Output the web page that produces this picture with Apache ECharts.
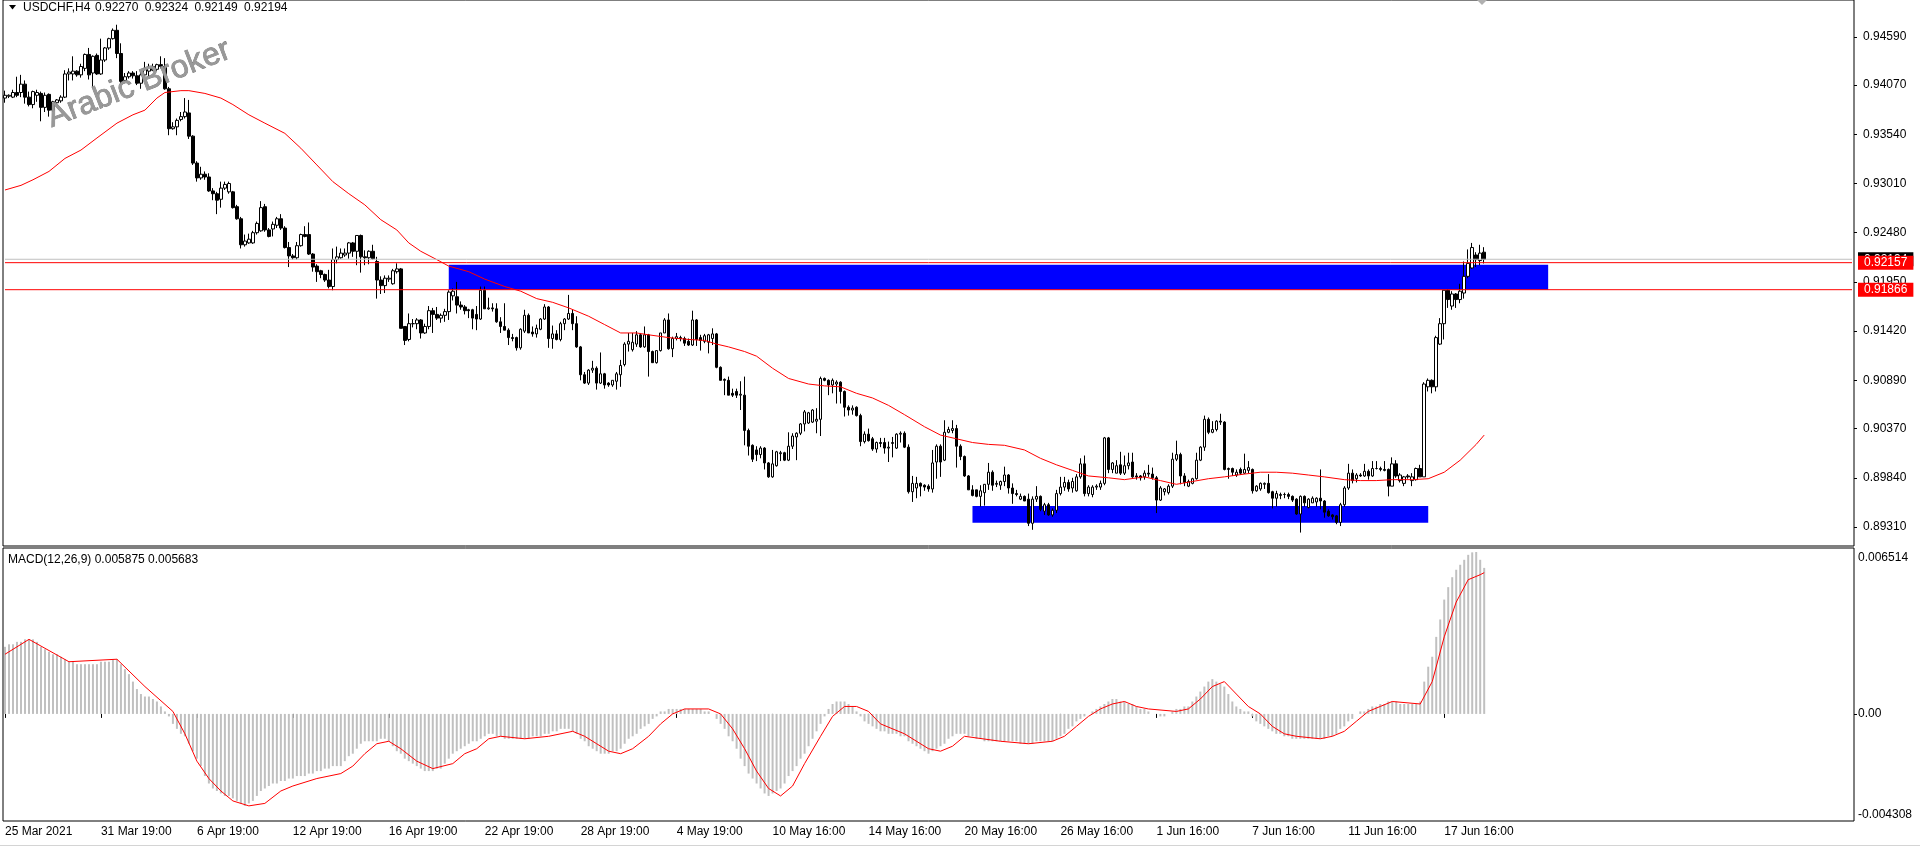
<!DOCTYPE html>
<html><head><meta charset="utf-8">
<script src="https://cdn.jsdelivr.net/npm/echarts@6/dist/echarts.min.js"></script>
<style>html,body{margin:0;padding:0;background:#fff;}#chart{width:1920px;height:847px;}</style>
</head><body><div id="chart"></div>
<script>
// ---------- DATA ----------
const symbolName = 'USDCHF,H4';
const lastBarOHLC = ['0.92270', '0.92324', '0.92149', '0.92194'];
const macdTitle = 'MACD(12,26,9) 0.005875 0.005683';
const watermark = 'Arabic Broker';
const timeLabels = ['25 Mar 2021','31 Mar 19:00','6 Apr 19:00','12 Apr 19:00','16 Apr 19:00','22 Apr 19:00','28 Apr 19:00','4 May 19:00','10 May 16:00','14 May 16:00','20 May 16:00','26 May 16:00','1 Jun 16:00','7 Jun 16:00','11 Jun 16:00','17 Jun 16:00'];
const barsPerLabel = 24;
const totalSlots = 463;
const priceTicks = [0.94590,0.94070,0.93540,0.93010,0.92480,0.91950,0.91420,0.90890,0.90370,0.89840,0.89310];
const priceMin = 0.891054, priceMax = 0.949864;
const macdTicks = [-0.004308, 0, 0.006514];
const macdTickLabels = ['-0.004308','0.00','0.006514'];
const macdMin = -0.004308, macdMax = 0.006675;
const hLines = [{v:0.92194,label:'0.92194',color:'#c0c0c0',bg:'#000000'},{v:0.92157,label:'0.92157',color:'#ff0000',bg:'#ff0000'},{v:0.91866,label:'0.91866',color:'#ff0000',bg:'#ff0000'}];
const zones = [{x1:111,x2:386,top:0.92135,bottom:0.91866},{x1:242,x2:356,top:0.89536,bottom:0.89356}];

const opens = [
.9393,.9395,.9394,.9399,.9399,.9408,.9394,.9386,.9396,.9398,
.9383,.9397,.9380,.9388,.9390,.9394,.9419,.9419,.9422,.9418,
.9425,.9440,.9420,.9439,.9419,.9434,.9447,.9457,.9466,.9441,
.9412,.9416,.9420,.9417,.9409,.9418,.9422,.9427,.9424,.9429,
.9427,.9403,.9360,.9362,.9370,.9373,.9377,.9352,.9323,.9307,
.9311,.9308,.9293,.9290,.9284,.9296,.9292,.9292,.9276,.9263,
.9235,.9237,.9237,.9248,.9250,.9276,.9251,.9252,.9256,.9263,
.9253,.9232,.9223,.9221,.9234,.9246,.9246,.9225,.9212,.9207,
.9203,.9197,.9190,.9219,.9221,.9224,.9226,.9237,.9228,.9245,
.9222,.9221,.9228,.9217,.9197,.9191,.9198,.9193,.9206,.9209,
.9147,.9133,.9150,.9150,.9154,.9140,.9147,.9164,.9160,.9156,
.9159,.9163,.9180,.9179,.9170,.9168,.9165,.9165,.9160,.9155,
.9186,.9166,.9167,.9166,.9152,.9147,.9143,.9135,.9135,.9124,
.9142,.9159,.9141,.9139,.9144,.9155,.9168,.9134,.9139,.9133,
.9150,.9155,.9161,.9150,.9125,.9095,.9086,.9100,.9102,.9086,
.9096,.9086,.9084,.9088,.9095,.9106,.9128,.9122,.9128,.9138,
.9125,.9138,.9120,.9108,.9121,.9140,.9154,.9123,.9134,.9135,
.9134,.9131,.9127,.9154,.9135,.9131,.9130,.9134,.9139,.9103,
.9090,.9089,.9075,.9077,.9073,.9073,.9035,.9019,.9014,.9009,
.9016,.9000,.8985,.8997,.9010,.9011,.9003,.9018,.9028,.9032,
.9042,.9043,.9044,.9045,.9047,.9091,.9089,.9084,.9085,.9087,
.9077,.9060,.9057,.9060,.9051,.9023,.9031,.9026,.9015,.9022,
.9022,.9016,.9021,.9016,.9031,.9032,.9017,.8969,.8973,.8978,
.8976,.8975,.8972,.9001,.9018,.9003,.9033,.9035,.9037,.9018,
.9007,.8986,.8971,.8971,.8964,.8968,.8977,.8990,.8977,.8976,
.8980,.8987,.8973,.8967,.8961,.8964,.8961,.8935,.8961,.8964,
.8948,.8955,.8944,.8949,.8967,.8974,.8979,.8973,.8970,.8985,
.8999,.8967,.8966,.8974,.8974,.8978,.9027,.8993,.8989,.8998,
.8989,.8997,.9001,.8986,.8986,.8985,.8989,.8988,.8984,.8960,
.8969,.8968,.8975,.9004,.9009,.8986,.8975,.8978,.8983,.9003,
.9017,.9047,.9033,.9036,.9045,.9044,.8993,.8994,.8987,.8993,
.8989,.8992,.8993,.8970,.8972,.8977,.8978,.8969,.8962,.8965,
.8966,.8966,.8964,.8961,.8945,.8964,.8952,.8957,.8958,.8962,
.8959,.8948,.8944,.8943,.8936,.8955,.8973,.8989,.8983,.8987,
.8986,.8991,.8986,.8994,.8994,.8993,.8993,.8975,.8999,.8981,
.8978,.8986,.8981,.8982,.8994,.8985,.9082,.9089,.9082,.9128,
.9150,.9186,.9169,.9182,.9176,.9183,.9201,.9210,.9224,.9218,
.92270];
const highs = [
.9401,.9397,.9402,.9416,.9418,.9412,.9400,.9401,.9402,.9400,
.9399,.9398,.9390,.9392,.9396,.9423,.9425,.9438,.9423,.9430,
.9441,.9447,.9439,.9441,.9457,.9448,.9458,.9468,.9472,.9452,
.9420,.9422,.9422,.9422,.9421,.9432,.9430,.9430,.9430,.9438,
.9436,.9405,.9367,.9371,.9378,.9393,.9391,.9353,.9325,.9319,
.9314,.9312,.9296,.9292,.9303,.9303,.9303,.9293,.9278,.9265,
.9246,.9247,.9250,.9260,.9282,.9279,.9253,.9260,.9265,.9268,
.9255,.9238,.9225,.9238,.9247,.9255,.9259,.9226,.9214,.9208,
.9204,.9208,.9231,.9233,.9231,.9231,.9238,.9238,.9245,.9246,
.9229,.9229,.9235,.9222,.9201,.9202,.9202,.9209,.9215,.9210,
.9147,.9161,.9155,.9156,.9155,.9150,.9169,.9167,.9168,.9161,
.9166,.9186,.9188,.9195,.9174,.9170,.9166,.9166,.9169,.9190,
.9190,.9178,.9172,.9172,.9157,.9172,.9145,.9139,.9136,.9145,
.9165,.9161,.9147,.9149,.9156,.9171,.9169,.9148,.9143,.9152,
.9156,.9181,.9165,.9158,.9126,.9098,.9101,.9110,.9104,.9119,
.9097,.9087,.9089,.9098,.9111,.9130,.9140,.9140,.9142,.9140,
.9147,.9139,.9121,.9121,.9140,.9156,.9161,.9136,.9140,.9137,
.9136,.9134,.9164,.9155,.9138,.9139,.9139,.9145,.9140,.9104,
.9091,.9093,.9080,.9080,.9088,.9093,.9037,.9020,.9018,.9018,
.9017,.9001,.9014,.9013,.9013,.9012,.9033,.9032,.9033,.9043,
.9057,.9055,.9058,.9059,.9093,.9092,.9090,.9091,.9089,.9088,
.9078,.9062,.9062,.9061,.9053,.9034,.9037,.9028,.9023,.9027,
.9027,.9023,.9028,.9032,.9034,.9034,.9020,.8986,.8985,.8979,
.8977,.8977,.9014,.9020,.9020,.9046,.9039,.9046,.9041,.9020,
.9008,.8987,.8976,.8971,.8976,.8977,.9000,.8992,.8981,.8981,
.8996,.8988,.8978,.8971,.8967,.8965,.8967,.8964,.8975,.8965,
.8957,.8957,.8951,.8971,.8985,.8985,.8982,.8984,.8988,.9005,
.9008,.8976,.8976,.8977,.8981,.9028,.9028,.9001,.9003,.9012,
.9008,.9011,.9011,.8989,.8987,.8992,.8998,.8995,.8986,.8975,
.8973,.8977,.9011,.9024,.9011,.8989,.8982,.8984,.9011,.9018,
.9051,.9049,.9045,.9046,.9053,.9045,.8995,.8995,.8993,.8995,
.9010,.9002,.8994,.8976,.8979,.8979,.8988,.8970,.8970,.8968,
.8968,.8968,.8965,.8962,.8965,.8965,.8962,.8964,.8963,.8993,
.8960,.8950,.8945,.8944,.8957,.8975,.8999,.8993,.8989,.8989,
.8999,.8993,.9002,.9002,.8996,.9002,.8994,.9006,.9003,.8989,
.8986,.8988,.8989,.8995,.8998,.9087,.9091,.9090,.9137,.9156,
.9186,.9187,.9185,.9183,.9193,.9217,.9230,.9237,.9227,.9235,
.92324];
const lows = [
.9388,.9393,.9393,.9394,.9394,.9387,.9384,.9382,.9389,.9368,
.9378,.9373,.9378,.9386,.9388,.9393,.9412,.9412,.9416,.9415,
.9422,.9413,.9404,.9418,.9418,.9432,.9445,.9456,.9436,.9405,
.9409,.9414,.9414,.9407,.9403,.9416,.9416,.9422,.9422,.9425,
.9402,.9353,.9359,.9353,.9368,.9371,.9349,.9321,.9303,.9305,
.9305,.9292,.9283,.9268,.9275,.9294,.9290,.9274,.9262,.9231,
.9233,.9236,.9236,.9246,.9249,.9249,.9243,.9244,.9253,.9251,
.9231,.9211,.9219,.9219,.9233,.9243,.9224,.9206,.9195,.9199,
.9195,.9188,.9186,.9215,.9220,.9222,.9220,.9222,.9213,.9205,
.9213,.9214,.9219,.9177,.9182,.9183,.9195,.9192,.9204,.9145,
.9127,.9131,.9146,.9144,.9134,.9139,.9144,.9140,.9154,.9151,
.9152,.9154,.9175,.9161,.9165,.9160,.9156,.9144,.9143,.9154,
.9166,.9165,.9163,.9151,.9140,.9143,.9127,.9131,.9121,.9122,
.9140,.9140,.9136,.9135,.9143,.9154,.9124,.9123,.9132,.9131,
.9143,.9154,.9143,.9124,.9089,.9085,.9084,.9097,.9079,.9085,
.9080,.9082,.9082,.9079,.9082,.9104,.9120,.9120,.9125,.9124,
.9124,.9093,.9108,.9107,.9120,.9140,.9122,.9114,.9132,.9131,
.9126,.9126,.9126,.9126,.9121,.9129,.9118,.9127,.9102,.9089,
.9073,.9073,.9071,.9070,.9057,.9019,.9008,.9001,.9002,.9005,
.8993,.8984,.8984,.8996,.9002,.9002,.9002,.9015,.9003,.9030,
.9034,.9042,.9043,.9032,.9029,.9088,.9073,.9075,.9064,.9064,
.9050,.9051,.9052,.9050,.9018,.9021,.9023,.9013,.9011,.9017,
.9010,.9001,.9006,.9015,.9022,.9016,.8967,.8958,.8962,.8964,
.8970,.8969,.8968,.8983,.8985,.9002,.9032,.9032,.8995,.9003,
.8985,.8971,.8964,.8963,.8953,.8954,.8971,.8970,.8974,.8971,
.8975,.8967,.8956,.8964,.8960,.8959,.8932,.8928,.8958,.8948,
.8944,.8943,.8942,.8946,.8965,.8970,.8969,.8968,.8969,.8983,
.8964,.8964,.8963,.8971,.8971,.8976,.8989,.8989,.8989,.8987,
.8987,.8993,.8984,.8982,.8981,.8982,.8985,.8982,.8946,.8959,
.8965,.8966,.8973,.9002,.8977,.8975,.8974,.8977,.8982,.9002,
.9013,.9031,.9032,.9034,.9041,.8992,.8983,.8986,.8985,.8987,
.8988,.8989,.8967,.8969,.8970,.8972,.8967,.8951,.8953,.8961,
.8962,.8961,.8958,.8944,.8925,.8953,.8951,.8957,.8953,.8950,
.8941,.8942,.8939,.8934,.8932,.8953,.8971,.8978,.8979,.8985,
.8985,.8982,.8985,.8993,.8991,.8991,.8964,.8975,.8984,.8979,
.8975,.8983,.8975,.8981,.8985,.8985,.9077,.9075,.9077,.9127,
.9133,.9167,.9165,.9167,.9172,.9177,.9199,.9209,.9211,.9213,
.92149];
const closes = [
.9396,.9396,.9399,.9396,.9408,.9394,.9386,.9400,.9399,.9383,
.9396,.9380,.9389,.9391,.9394,.9419,.9421,.9422,.9418,.9427,
.9440,.9418,.9438,.9419,.9434,.9447,.9457,.9466,.9441,.9411,
.9416,.9420,.9417,.9409,.9418,.9425,.9426,.9423,.9429,.9427,
.9403,.9360,.9362,.9369,.9373,.9378,.9352,.9323,.9307,.9311,
.9308,.9293,.9290,.9283,.9296,.9300,.9301,.9275,.9263,.9235,
.9239,.9241,.9248,.9258,.9275,.9251,.9244,.9257,.9263,.9253,
.9232,.9223,.9221,.9234,.9246,.9244,.9225,.9211,.9206,.9203,
.9197,.9190,.9219,.9222,.9226,.9226,.9237,.9228,.9245,.9222,
.9221,.9228,.9220,.9197,.9191,.9199,.9199,.9207,.9209,.9145,
.9132,.9150,.9150,.9154,.9140,.9147,.9164,.9160,.9156,.9159,
.9163,.9184,.9185,.9170,.9168,.9164,.9164,.9156,.9155,.9186,
.9166,.9167,.9166,.9152,.9147,.9143,.9135,.9134,.9124,.9144,
.9159,.9140,.9139,.9145,.9155,.9168,.9134,.9139,.9133,.9150,
.9155,.9161,.9150,.9125,.9095,.9086,.9100,.9102,.9086,.9096,
.9084,.9084,.9089,.9096,.9105,.9128,.9131,.9130,.9138,.9125,
.9138,.9120,.9108,.9121,.9140,.9154,.9123,.9134,.9136,.9134,
.9129,.9127,.9154,.9133,.9132,.9137,.9138,.9139,.9103,.9089,
.9089,.9073,.9073,.9073,.9074,.9035,.9018,.9004,.9009,.9016,
.9000,.8985,.8999,.9012,.9011,.9003,.9018,.9029,.9032,.9042,
.9055,.9054,.9057,.9047,.9091,.9089,.9084,.9089,.9087,.9077,
.9060,.9057,.9059,.9051,.9023,.9031,.9024,.9015,.9022,.9021,
.9016,.9017,.9022,.9031,.9032,.9017,.8969,.8978,.8978,.8975,
.8974,.8972,.9000,.9018,.9001,.9033,.9036,.9037,.9018,.9007,
.8986,.8971,.8965,.8964,.8970,.8977,.8990,.8976,.8978,.8980,
.8987,.8973,.8967,.8966,.8964,.8959,.8935,.8961,.8964,.8950,
.8955,.8944,.8949,.8967,.8974,.8979,.8972,.8980,.8985,.8999,
.8967,.8974,.8974,.8975,.8978,.9027,.8993,.9000,.8997,.8989,
.8997,.9000,.8985,.8985,.8984,.8989,.8988,.8984,.8960,.8973,
.8972,.8975,.9004,.9009,.8986,.8979,.8980,.8983,.9003,.9017,
.9047,.9033,.9036,.9045,.9044,.8993,.8994,.8990,.8990,.8989,
.8993,.8995,.8970,.8975,.8978,.8978,.8968,.8962,.8967,.8966,
.8966,.8964,.8960,.8945,.8964,.8957,.8961,.8962,.8962,.8959,
.8947,.8943,.8942,.8936,.8955,.8973,.8989,.8981,.8987,.8986,
.8991,.8986,.8994,.8994,.8993,.8992,.8975,.8999,.8986,.8987,
.8985,.8985,.8985,.8994,.8985,.9085,.9089,.9082,.9135,.9150,
.9186,.9176,.9182,.9176,.9185,.9201,.9215,.9232,.9219,.9226,
.92194];
// moving average line, read at sample bars [barIndex, value]
const maPoints = [[0,.9294],[4,.9299],[7,.9305],[11,.9314],[15,.9328],[19,.9337],[23,.9350],[28,.9366],[32,.9375],[35,.9380],[38,.9393],[40,.9399],[44,.9401],[46,.9401],[50,.9398],[54,.9393],[57,.9386],[61,.9375],[65,.9366],[70,.9355],[74,.9339],[78,.9321],[82,.9303],[86,.9290],[90,.9278],[94,.9262],[98,.9251],[101,.9237],[104,.9228],[108,.9219],[111,.9212],[116,.9206],[120,.9198],[125,.9190],[129,.9185],[133,.9177],[137,.9173],[141,.9167],[146,.9158],[150,.9149],[154,.9140],[158,.9140],[161,.9138],[166,.9135],[171,.9133],[175,.9132],[178,.9128],[181,.9125],[185,.9120],[188,.9115],[192,.9102],[196,.9091],[201,.9085],[205,.9083],[209,.9082],[213,.9075],[217,.9070],[221,.9062],[225,.9052],[230,.9039],[234,.9030],[238,.9026],[242,.9022],[246,.9020],[250,.9019],[255,.9014],[259,.9005],[263,.8998],[267,.8992],[271,.8986],[276,.8984],[280,.8982],[285,.8985],[289,.8981],[293,.8977],[297,.8980],[301,.8983],[305,.8985],[310,.8988],[314,.8990],[318,.8990],[322,.8989],[326,.8987],[330,.8985],[335,.8982],[339,.8981],[343,.8981],[347,.8982],[352,.8982],[356,.8983],[360,.8990],[364,.9003],[368,.9020],[370,.9030]];
const macdHist = [
.0027,.0028,.0028,.0029,.0029,.0030,.0030,.0030,.0029,.0027,
.0026,.0025,.0024,.0024,.0023,.0022,.0021,.0021,.0020,.0020,
.0020,.0020,.0020,.0020,.0021,.0021,.0021,.0022,.0022,.0020,
.0018,.0016,.0013,.0010,.0008,.0007,.0007,.0006,.0005,.0003,
.0001,-.0001,-.0004,-.0006,-.0008,-.0009,-.0012,-.0015,-.0018,-.0021,
-.0025,-.0028,-.0030,-.0031,-.0032,-.0033,-.0033,-.0034,-.0035,-.0036,
-.0037,-.0036,-.0035,-.0033,-.0031,-.0030,-.0029,-.0028,-.0028,-.0027,
-.0027,-.0026,-.0026,-.0025,-.0025,-.0025,-.0024,-.0024,-.0023,-.0023,
-.0022,-.0022,-.0021,-.0021,-.0021,-.0019,-.0017,-.0016,-.0014,-.0012,
-.0011,-.0011,-.0011,-.0011,-.0010,-.0010,-.0011,-.0013,-.0015,-.0016,
-.0018,-.0019,-.0020,-.0021,-.0022,-.0023,-.0023,-.0023,-.0022,-.0022,
-.0020,-.0018,-.0016,-.0015,-.0014,-.0013,-.0012,-.0011,-.0011,-.0010,
-.0009,-.0008,-.0008,-.0009,-.0009,-.0010,-.0010,-.0010,-.0010,-.0010,
-.0010,-.0010,-.0009,-.0009,-.0009,-.0008,-.0008,-.0007,-.0007,-.0006,
-.0006,-.0006,-.0007,-.0008,-.0010,-.0011,-.0013,-.0014,-.0015,-.0016,
-.0016,-.0016,-.0015,-.0015,-.0014,-.0012,-.0010,-.0009,-.0008,-.0006,
-.0005,-.0004,-.0002,-.0001,.0001,.0001,.0002,.0002,.0002,.0002,
.0002,.0002,.0002,.0002,.0002,.0001,.0001,.0000,-.0002,-.0004,
-.0006,-.0009,-.0011,-.0014,-.0018,-.0021,-.0024,-.0026,-.0028,-.0030,
-.0032,-.0033,-.0032,-.0031,-.0030,-.0028,-.0025,-.0023,-.0021,-.0018,
-.0016,-.0013,-.0010,-.0007,-.0004,-.0001,.0002,.0004,.0005,.0005,
.0005,.0004,.0003,.0001,-.0001,-.0003,-.0004,-.0005,-.0006,-.0007,
-.0007,-.0008,-.0008,-.0008,-.0009,-.0009,-.0011,-.0012,-.0013,-.0014,
-.0015,-.0016,-.0015,-.0014,-.0013,-.0012,-.0010,-.0009,-.0008,-.0008,
-.0008,-.0009,-.0009,-.0010,-.0010,-.0011,-.0011,-.0011,-.0011,-.0011,
-.0011,-.0011,-.0011,-.0011,-.0012,-.0012,-.0012,-.0012,-.0011,-.0011,
-.0011,-.0011,-.0011,-.0010,-.0009,-.0008,-.0006,-.0005,-.0003,-.0002,
-.0001,.0000,.0001,.0002,.0003,.0004,.0005,.0006,.0006,.0005,
.0005,.0004,.0004,.0003,.0002,.0002,.0001,.0000,.0000,-.0001,
-.0001,.0000,.0001,.0002,.0002,.0003,.0003,.0005,.0007,.0009,
.0011,.0013,.0014,.0013,.0012,.0011,.0008,.0005,.0003,.0002,
.0001,.0001,-.0001,-.0003,-.0004,-.0005,-.0006,-.0007,-.0008,-.0008,
-.0009,-.0009,-.0010,-.0010,-.0010,-.0010,-.0010,-.0010,-.0010,-.0010,
-.0010,-.0009,-.0009,-.0008,-.0006,-.0005,-.0003,-.0002,.0000,.0001,
.0001,.0002,.0003,.0003,.0004,.0004,.0005,.0005,.0005,.0004,
.0004,.0004,.0004,.0004,.0005,.0013,.0019,.0023,.0031,.0038,
.0046,.0051,.0055,.0058,.0060,.0062,.0064,.0065,.006514,.0062,
.005875];
const signalPoints = [[0,.0024],[6,.0030],[16,.0021],[28,.0022],[35,.0011],[42,.0001],[45,-.0008],[48,-.0019],[51,-.0026],[54,-.0031],[57,-.0035],[61,-.0037],[65,-.0036],[69,-.0031],[72,-.0029],[78,-.0026],[84,-.0024],[87,-.0021],[90,-.0016],[93,-.0012],[96,-.0011],[99,-.0014],[103,-.0019],[107,-.0022],[112,-.0020],[115,-.0016],[118,-.0014],[121,-.0010],[124,-.0009],[130,-.0010],[136,-.0009],[142,-.0007],[145,-.0009],[148,-.0012],[151,-.0015],[154,-.0016],[157,-.0014],[161,-.0009],[164,-.0004],[167,.0000],[170,.0002],[176,.0002],[179,.0000],[182,-.0006],[185,-.0014],[188,-.0023],[191,-.0030],[194,-.0033],[197,-.0029],[200,-.0020],[204,-.0009],[207,-.0001],[210,.0003],[213,.0003],[216,.0001],[219,-.0004],[225,-.0008],[231,-.0014],[234,-.0015],[237,-.0013],[240,-.0009],[249,-.0011],[256,-.0012],[262,-.0011],[265,-.0009],[268,-.0005],[271,-.0001],[274,.0002],[277,.0004],[280,.0005],[283,.0003],[286,.0002],[293,.0001],[296,.0002],[299,.0006],[302,.0011],[305,.0013],[308,.0008],[311,.0003],[314,.0000],[317,-.0005],[320,-.0008],[323,-.0009],[329,-.0010],[332,-.0009],[335,-.0007],[338,-.0003],[341,.0001],[344,.0003],[347,.0005],[354,.0004],[357,.0013],[360,.0031],[363,.0045],[366,.0054],[369,.0056],[370,.005683]];

// ---------- BUILD ----------
const categories = Array.from({length: totalSlots}, (_, i) => String(i));
const candleData = opens.map((o, i) => [o, closes[i], lows[i], highs[i]]);
const isLabelIdx = (idx) => idx % barsPerLabel === 0 && idx / barsPerLabel < timeLabels.length;
const FONT = '"Liberation Sans", Arial, sans-serif';

const hLineSeries = hLines.map((h, k) => ({
  name: 'hline' + k, type: 'line', xAxisIndex: 0, yAxisIndex: 0, z: 5 + k,
  data: [[0, h.v], [totalSlots - 1, h.v]], showSymbol: false, symbol: 'none', silent: true,
  lineStyle: {color: h.color, width: 1},
  endLabel: {show: true, distance: 6, formatter: h.label, color: '#fff', backgroundColor: h.bg,
    padding: [1, 6, 0, 6], fontSize: 12, fontFamily: FONT, lineHeight: 13}
}));

const chart = echarts.init(document.getElementById('chart'), null, {renderer: 'canvas'});
chart.setOption({
  animation: false,
  backgroundColor: '#ffffff',
  textStyle: {fontFamily: FONT},
  grid: [
    {left: 3, right: 66, top: 0, height: 546, show: true, borderColor: '#000', borderWidth: 1, backgroundColor: 'transparent'},
    {left: 3, right: 66, top: 548, height: 273, show: true, borderColor: '#000', borderWidth: 1, backgroundColor: 'transparent'}
  ],
  xAxis: [
    {type: 'category', gridIndex: 0, data: categories, boundaryGap: true,
     axisLine: {show: false}, axisTick: {show: false}, axisLabel: {show: false}, splitLine: {show: false}},
    {type: 'category', gridIndex: 1, data: categories, boundaryGap: true,
     axisLine: {show: false},
     axisTick: {show: true, alignWithLabel: true, interval: (idx) => isLabelIdx(idx), length: 4, lineStyle: {color: '#000'}},
     axisLabel: {show: true, interval: (idx) => isLabelIdx(idx), align: 'left', margin: 5, color: '#000', fontSize: 12, fontFamily: FONT,
       formatter: (v, idx) => timeLabels[Math.round(idx / barsPerLabel)] || ''},
     splitLine: {show: false}}
  ],
  yAxis: [
    {type: 'value', gridIndex: 0, position: 'right', min: priceMin, max: priceMax, scale: true,
     axisLine: {show: false}, splitLine: {show: false},
     axisTick: {show: true, customValues: priceTicks, length: 3, lineStyle: {color: '#000'}},
     axisLabel: {show: true, customValues: priceTicks, margin: 9, color: '#000', fontSize: 12, fontFamily: FONT, formatter: (v) => v.toFixed(5)}},
    {type: 'value', gridIndex: 1, position: 'right', min: macdMin, max: macdMax,
     axisLine: {show: false}, splitLine: {show: false},
     axisTick: {show: true, customValues: [0], length: 3, lineStyle: {color: '#000'}},
     axisLabel: {show: true, customValues: macdTicks, margin: 4, color: '#000', fontSize: 12, fontFamily: FONT,
       verticalAlignMinLabel: 'bottom', verticalAlignMaxLabel: 'top',
       formatter: (v) => { const k = macdTicks.findIndex(t => Math.abs(t - v) < 1e-9); return k >= 0 ? macdTickLabels[k] : ''; }}}
  ],
  series: [
    {name: 'USDCHF', type: 'candlestick', xAxisIndex: 0, yAxisIndex: 0, data: candleData, barWidth: 3, z: 3,
     itemStyle: {color: '#ffffff', color0: '#000000', borderColor: '#000000', borderColor0: '#000000', borderWidth: 1},
     markArea: {silent: true, itemStyle: {color: '#0000ff', opacity: 1},
       data: zones.map(z => [{coord: [z.x1, z.top]}, {coord: [z.x2, z.bottom]}])}},
    {name: 'MA', type: 'line', xAxisIndex: 0, yAxisIndex: 0, data: maPoints, showSymbol: false, symbol: 'none', z: 4,
     lineStyle: {color: '#ff0000', width: 1}},
    ...hLineSeries,
    {name: 'MACD', type: 'bar', xAxisIndex: 1, yAxisIndex: 1, data: macdHist, barWidth: 2, z: 2,
     itemStyle: {color: '#c0c0c0'}},
    {name: 'Signal', type: 'line', xAxisIndex: 1, yAxisIndex: 1, data: signalPoints, showSymbol: false, symbol: 'none', z: 4,
     lineStyle: {color: '#ff0000', width: 1}}
  ],
  graphic: [
    {type: 'polygon', shape: {points: [[9, 5], [16, 5], [12.5, 9.5]]}, style: {fill: '#000'}, z: 10},
    {type: 'text', x: 23, y: 7.5, z: 10, style: {text: symbolName, font: '12px ' + FONT, fill: '#000', verticalAlign: 'middle'}},
    ...lastBarOHLC.map((t, k) => ({type: 'text', x: 95 + 49.7 * k, y: 7.5, z: 10,
      style: {text: t, font: '12px ' + FONT, fill: '#000', verticalAlign: 'middle'}})),
    {type: 'text', x: 8, y: 560, z: 10, style: {text: macdTitle, font: '12px ' + FONT, fill: '#000', verticalAlign: 'middle'}},
    {type: 'text', x: 139, y: 84, rotation: 0.37, z: 10,
     style: {text: watermark, font: '32px ' + FONT, fill: '#989898', stroke: '#747474', lineWidth: 0.7, align: 'center', verticalAlign: 'middle'}},
    {type: 'polygon', shape: {points: [[1477, 0], [1487, 0], [1482, 5]]}, style: {fill: '#b0b0b0'}, z: 10},
    {type: 'line', shape: {x1: 0, y1: 845.5, x2: 1920, y2: 845.5}, style: {stroke: '#d4d4d4', lineWidth: 1}, z: 10}
  ]
});
</script>
</body></html>
